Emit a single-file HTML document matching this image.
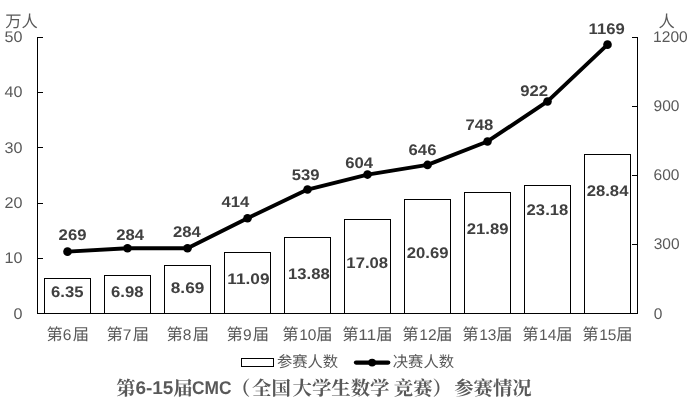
<!DOCTYPE html>
<html lang="zh"><head><meta charset="utf-8"><title>第6-15届CMC（全国大学生数学竞赛）参赛情况</title>
<style>
html,body{margin:0;padding:0;background:#fff}
body{width:689px;height:400px;overflow:hidden;font-family:"Liberation Sans","Noto Sans CJK SC",sans-serif}
svg{display:block;will-change:transform}
svg text{font-family:"Liberation Sans","Noto Sans CJK SC",sans-serif;text-rendering:geometricPrecision}
svg text.ttl{font-family:"Liberation Serif","Noto Serif CJK SC",serif;font-weight:700}
</style></head><body>
<svg width="689" height="400" viewBox="0 0 689 400">
<rect width="689" height="400" fill="#fff"/>
<rect x="44.50" y="278.50" width="46.00" height="35.00" fill="#fff" stroke="#000"/>
<rect x="104.50" y="275.50" width="46.00" height="38.00" fill="#fff" stroke="#000"/>
<rect x="164.50" y="265.50" width="46.00" height="48.00" fill="#fff" stroke="#000"/>
<rect x="224.50" y="252.50" width="46.00" height="61.00" fill="#fff" stroke="#000"/>
<rect x="284.50" y="237.50" width="46.00" height="76.00" fill="#fff" stroke="#000"/>
<rect x="344.50" y="219.50" width="46.00" height="94.00" fill="#fff" stroke="#000"/>
<rect x="404.50" y="199.50" width="46.00" height="114.00" fill="#fff" stroke="#000"/>
<rect x="464.50" y="192.50" width="46.00" height="121.00" fill="#fff" stroke="#000"/>
<rect x="524.50" y="185.50" width="46.00" height="128.00" fill="#fff" stroke="#000"/>
<rect x="584.50" y="154.50" width="46.00" height="159.00" fill="#fff" stroke="#000"/>
<path d="M37.5 37.0V313.5M637.5 37.0V313.5M37.0 313.5H638.0M37.5 258.5h5.5M37.5 203.5h5.5M37.5 147.5h5.5M37.5 92.5h5.5M37.5 37.5h5.5M637.5 244.5h-5.5M637.5 175.5h-5.5M637.5 106.5h-5.5M637.5 37.5h-5.5" stroke="#000" fill="none"/>
<text transform="translate(13.54 319.00) scale(1.05 1)" font-size="15.4" fill="#595959">0</text>
<text transform="translate(4.55 263.00) scale(1.05 1)" font-size="15.4" fill="#595959">10</text>
<text transform="translate(4.55 207.80) scale(1.05 1)" font-size="15.4" fill="#595959">20</text>
<text transform="translate(4.55 152.90) scale(1.05 1)" font-size="15.4" fill="#595959">30</text>
<text transform="translate(4.55 96.60) scale(1.05 1)" font-size="15.4" fill="#595959">40</text>
<text transform="translate(4.55 42.20) scale(1.05 1)" font-size="15.4" fill="#595959">50</text>
<text transform="translate(653.69 318.90) scale(1.01 1)" font-size="15.4" fill="#595959">0</text>
<text transform="translate(653.71 249.00) scale(1.01 1)" font-size="15.4" fill="#595959">300</text>
<text transform="translate(653.51 179.80) scale(1.01 1)" font-size="15.4" fill="#595959">600</text>
<text transform="translate(653.57 111.00) scale(1.01 1)" font-size="15.4" fill="#595959">900</text>
<text transform="translate(653.12 42.20) scale(1.01 1)" font-size="15.4" fill="#595959">1200</text>
<text x="5.30" y="26.50" font-size="16.3" fill="#595959">万人</text>
<text x="658.40" y="26.50" font-size="16.3" fill="#595959">人</text>
<text transform="translate(62.82 340.10) scale(1.01 1)" font-size="15.4" fill="#595959">6</text>
<text x="46.60" y="340.30" font-size="16.3" fill="#595959">第<tspan dx="9.84">届</tspan></text>
<text transform="translate(122.87 340.10) scale(1.01 1)" font-size="15.4" fill="#595959">7</text>
<text x="106.60" y="340.30" font-size="16.3" fill="#595959">第<tspan dx="9.84">届</tspan></text>
<text transform="translate(182.87 340.10) scale(1.01 1)" font-size="15.4" fill="#595959">8</text>
<text x="166.60" y="340.30" font-size="16.3" fill="#595959">第<tspan dx="9.84">届</tspan></text>
<text transform="translate(242.88 340.10) scale(1.01 1)" font-size="15.4" fill="#595959">9</text>
<text x="226.60" y="340.30" font-size="16.3" fill="#595959">第<tspan dx="9.84">届</tspan></text>
<text transform="translate(299.16 340.10) scale(1.01 1)" font-size="15.4" fill="#595959">10</text>
<text x="282.30" y="340.30" font-size="16.3" fill="#595959">第<tspan dx="17.55">届</tspan></text>
<text transform="translate(358.18 340.10) scale(1.131 1)" font-size="15.4" fill="#595959">11</text>
<text x="342.30" y="340.30" font-size="16.3" fill="#595959">第<tspan dx="17.55">届</tspan></text>
<text transform="translate(419.25 340.10) scale(1.01 1)" font-size="15.4" fill="#595959">12</text>
<text x="402.30" y="340.30" font-size="16.3" fill="#595959">第<tspan dx="17.55">届</tspan></text>
<text transform="translate(479.20 340.10) scale(1.01 1)" font-size="15.4" fill="#595959">13</text>
<text x="462.30" y="340.30" font-size="16.3" fill="#595959">第<tspan dx="17.55">届</tspan></text>
<text transform="translate(539.09 340.10) scale(1.01 1)" font-size="15.4" fill="#595959">14</text>
<text x="522.30" y="340.30" font-size="16.3" fill="#595959">第<tspan dx="17.55">届</tspan></text>
<text transform="translate(599.18 340.10) scale(1.01 1)" font-size="15.4" fill="#595959">15</text>
<text x="582.30" y="340.30" font-size="16.3" fill="#595959">第<tspan dx="17.55">届</tspan></text>
<path d="M67.50 251.63L127.50 248.18L187.50 248.18L247.50 218.28L307.50 189.53L367.50 174.58L427.50 164.92L487.50 141.46L547.50 101.44L607.50 44.63" stroke="#000" stroke-width="3.9" fill="none" stroke-linecap="round" stroke-linejoin="round"/>
<circle cx="67.50" cy="251.63" r="4.3" fill="#000"/>
<circle cx="127.50" cy="248.18" r="4.3" fill="#000"/>
<circle cx="187.50" cy="248.18" r="4.3" fill="#000"/>
<circle cx="247.50" cy="218.28" r="4.3" fill="#000"/>
<circle cx="307.50" cy="189.53" r="4.3" fill="#000"/>
<circle cx="367.50" cy="174.58" r="4.3" fill="#000"/>
<circle cx="427.50" cy="164.92" r="4.3" fill="#000"/>
<circle cx="487.50" cy="141.46" r="4.3" fill="#000"/>
<circle cx="547.50" cy="101.44" r="4.3" fill="#000"/>
<circle cx="607.50" cy="44.63" r="4.3" fill="#000"/>
<text transform="translate(51.00 297.00) scale(1.09 1)" font-size="15.3" fill="#404040" font-weight="700">6.35</text>
<text transform="translate(111.02 297.00) scale(1.09 1)" font-size="15.3" fill="#404040" font-weight="700">6.98</text>
<text transform="translate(170.75 293.00) scale(1.128 1)" font-size="15.3" fill="#404040" font-weight="700">8.69</text>
<text transform="translate(227.28 284.00) scale(1.128 1)" font-size="15.3" fill="#404040" font-weight="700">11.09</text>
<text transform="translate(287.96 279.00) scale(1.09 1)" font-size="15.3" fill="#404040" font-weight="700">13.88</text>
<text transform="translate(346.36 268.00) scale(1.09 1)" font-size="15.3" fill="#404040" font-weight="700">17.08</text>
<text transform="translate(406.75 258.00) scale(1.09 1)" font-size="15.3" fill="#404040" font-weight="700">20.69</text>
<text transform="translate(466.75 234.00) scale(1.09 1)" font-size="15.3" fill="#404040" font-weight="700">21.89</text>
<text transform="translate(526.60 215.00) scale(1.09 1)" font-size="15.3" fill="#404040" font-weight="700">23.18</text>
<text transform="translate(586.69 196.00) scale(1.09 1)" font-size="15.3" fill="#404040" font-weight="700">28.84</text>
<text transform="translate(58.61 240.00) scale(1.09 1)" font-size="15.3" fill="#404040" font-weight="700">269</text>
<text transform="translate(116.24 240.00) scale(1.09 1)" font-size="15.3" fill="#404040" font-weight="700">284</text>
<text transform="translate(172.94 237.00) scale(1.09 1)" font-size="15.3" fill="#404040" font-weight="700">284</text>
<text transform="translate(221.51 207.00) scale(1.09 1)" font-size="15.3" fill="#404040" font-weight="700">414</text>
<text transform="translate(291.74 180.00) scale(1.09 1)" font-size="15.3" fill="#404040" font-weight="700">539</text>
<text transform="translate(345.13 168.00) scale(1.09 1)" font-size="15.3" fill="#404040" font-weight="700">604</text>
<text transform="translate(408.58 155.00) scale(1.09 1)" font-size="15.3" fill="#404040" font-weight="700">646</text>
<text transform="translate(465.39 130.00) scale(1.09 1)" font-size="15.3" fill="#404040" font-weight="700">748</text>
<text transform="translate(520.13 96.00) scale(1.09 1)" font-size="15.3" fill="#404040" font-weight="700">922</text>
<text transform="translate(588.53 34.00) scale(1.09 1)" font-size="15.3" fill="#404040" font-weight="700">1169</text>
<rect x="241.5" y="358.5" width="32" height="8" fill="#fff" stroke="#000"/>
<text x="276.90" y="366.90" font-size="15.3" fill="#595959">参赛人数</text>
<path d="M356.0 362.6H388.2" stroke="#000" stroke-width="4.3" stroke-linecap="round" fill="none"/>
<circle cx="372.1" cy="362.6" r="3.9" fill="#000"/>
<text x="392.80" y="366.90" font-size="15.3" fill="#595959">决赛人数</text>
<text class="ttl" x="116.20" y="394.60" font-size="19.4" fill="#595959">第</text>
<text class="ttl" x="173.20" y="394.60" font-size="19.4" fill="#595959">届</text>
<text class="ttl" x="230.90" y="394.60" font-size="19.4" fill="#595959">（</text>
<text class="ttl" x="252.05" y="394.60" font-size="19.4" fill="#595959">全国</text>
<text class="ttl" x="292.55" y="394.60" font-size="19.4" fill="#595959">大学生数学</text>
<text class="ttl" x="393.80" y="394.60" font-size="19.4" fill="#595959">竞赛）</text>
<text class="ttl" x="454.15" y="394.60" font-size="19.4" fill="#595959">参赛情况</text>
<text transform="translate(135.40 393.90) scale(1.0325 1)" font-size="18.4" fill="#595959" font-weight="700">6-15</text>
<text transform="translate(191.99 393.90) scale(0.9423 1)" font-size="18.4" fill="#595959" font-weight="700">CMC</text>
</svg>
</body></html>
